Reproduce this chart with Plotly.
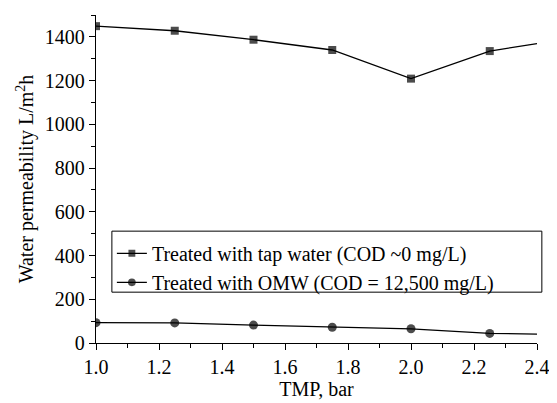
import plotly.graph_objects as go

tmp = [1.0, 1.25, 1.5, 1.75, 2.0, 2.25, 2.4]
tap_water = [1449, 1428, 1387, 1340, 1209, 1335, 1369]
omw = [93, 92, 82, 72, 65, 44, 41]
labels = ["Treated with tap water (COD ~0 mg/L)", "Treated with OMW (COD = 12,500 mg/L)"]

font = "Times New Roman, Liberation Serif, DejaVu Serif, serif"
fs = 20
sq = [8] * (len(tmp) - 1) + [0]
ci = [9] * (len(tmp) - 1) + [0]

fig = go.Figure()
fig.add_trace(go.Scatter(x=tmp, y=tap_water, mode="lines+markers", name=labels[0],
                         line=dict(color="black", width=1.3),
                         marker=dict(symbol="square", size=sq, color="black", line=dict(width=0))))
fig.add_trace(go.Scatter(x=tmp, y=omw, mode="lines+markers", name=labels[1],
                         line=dict(color="black", width=1.3),
                         marker=dict(symbol="circle", size=ci, color="black", line=dict(width=0))))

# page body has an 8px margin, so the figure is offset by 8px
fig.update_layout(
    width=549, height=395,
    margin=dict(l=88, r=15, t=7, b=60),
    paper_bgcolor="white", plot_bgcolor="white",
    font=dict(family=font, size=fs, color="black"),
    showlegend=True,
    legend=dict(x=0.036, y=0.333, xanchor="left", yanchor="top",
                borderwidth=0, bgcolor="rgba(0,0,0,0)",
                font=dict(family=font, size=fs, color="black"), itemwidth=30, tracegroupgap=0),
    shapes=[dict(type="rect", xref="paper", yref="paper", x0=0.036, x1=1.011, y0=0.155, y1=0.341,
                 line=dict(color="black", width=1), fillcolor="white", layer="above")],
)
fig.update_xaxes(range=[1.0, 2.4], dtick=0.2, tick0=1.0, tickformat=".1f",
                 tickfont=dict(family=font, size=fs, color="black"),
                 showline=True, linecolor="black", linewidth=1.3,
                 ticks="outside", ticklen=6, tickcolor="black", showgrid=False, zeroline=False,
                 minor=dict(dtick=0.1, ticks="outside", ticklen=4, tickcolor="black"),
                 title=dict(text="TMP, bar", standoff=3, font=dict(family=font, size=fs, color="black")))
fig.update_yaxes(range=[0, 1500], dtick=200, tick0=0,
                 tickfont=dict(family=font, size=fs, color="black"),
                 showline=True, linecolor="black", linewidth=1.3,
                 ticks="outside", ticklen=6, tickcolor="black", showgrid=False, zeroline=False,
                 minor=dict(dtick=100, ticks="outside", ticklen=4, tickcolor="black"),
                 title=dict(text="Water permeability L/m<sup>2</sup>h", standoff=5,
                            font=dict(family=font, size=fs, color="black")))

fig.write_html("out.html")
